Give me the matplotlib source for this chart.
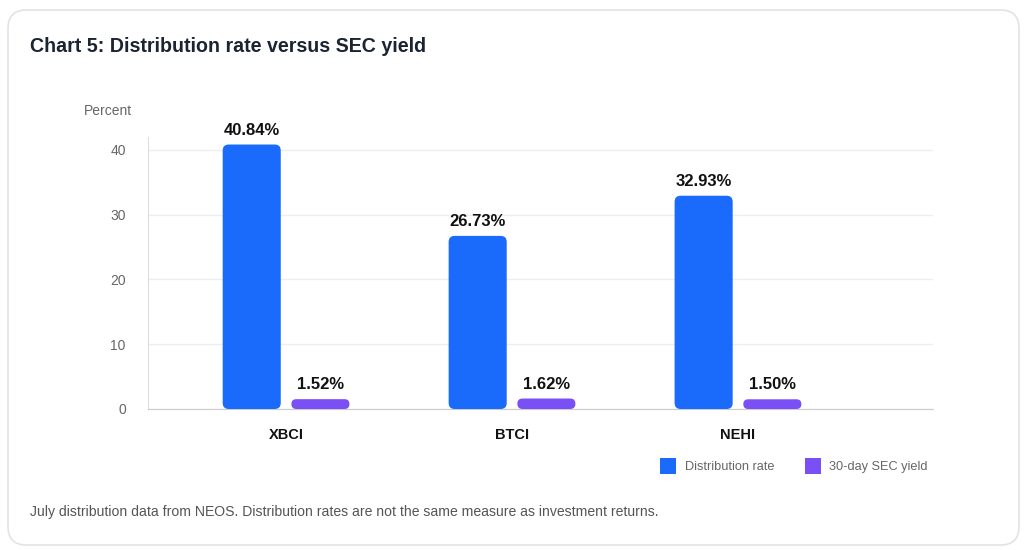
import matplotlib
matplotlib.use("Agg")
import matplotlib.pyplot as plt
from matplotlib.patches import FancyBboxPatch
import numpy as np

categories = ["XBCI", "BTCI", "NEHI"]
distribution_rate = [40.84, 26.73, 32.93]
sec_yield = [1.52, 1.62, 1.50]
series_names = ["Distribution rate", "30-day SEC yield"]
y_ticks = [0, 10, 20, 30, 40]

BLUE = "#1a6afc"
PURPLE = "#7a4ff5"

plt.rcParams['font.family'] = ['Liberation Sans', 'DejaVu Sans']

W, H = 1024, 550
fig = plt.figure(figsize=(W / 100, H / 100), dpi=100)

# card border
card = FancyBboxPatch((8 / W, 5 / H), (1019 - 8) / W, (545 - 10) / H,
                      boxstyle="round,pad=0,rounding_size=0.018",
                      transform=fig.transFigure, facecolor="white",
                      edgecolor="#e3e3e3", linewidth=1.2, mutation_aspect=W / H, zorder=-10)
fig.patches.append(card)

ax_left, ax_right = 148, 933
ax_top, ax_bottom = 137, 409
ax = fig.add_axes([ax_left / W, (H - ax_bottom) / H, (ax_right - ax_left) / W, (ax_bottom - ax_top) / H])
ax.set_facecolor("none")

x = np.arange(len(categories))
bw = 0.257
off = 0.152
ax.set_xlim(-0.611, 2.863)
ax.set_ylim(0, 42)

b1 = ax.bar(x - off, distribution_rate, bw, color=BLUE, label=series_names[0])
b2 = ax.bar(x + off, sec_yield, bw, color=PURPLE, label=series_names[1])

# rounded bars
fig.canvas.draw()
x_per_px = 1 / (ax.transData.transform((1, 0))[0] - ax.transData.transform((0, 0))[0])
y_per_px = 1 / (ax.transData.transform((0, 1))[1] - ax.transData.transform((0, 0))[1])
r_px = 6
for bars in (b1, b2):
    for p in bars:
        p.set_visible(False)
        bx, by = p.get_x(), p.get_y()
        bwid, bh = p.get_width(), p.get_height()
        r = min(r_px, bh / y_per_px / 2)
        fp = FancyBboxPatch((bx, by), bwid, bh,
                            boxstyle=f"round,pad=0,rounding_size={r * x_per_px}",
                            mutation_aspect=y_per_px / x_per_px,
                            facecolor=p.get_facecolor(), edgecolor="none", zorder=3)
        ax.add_patch(fp)

for xi, v in zip(x - off, distribution_rate):
    ax.annotate(f"{v:.2f}%", (xi, v), xytext=(0, 5), textcoords="offset points",
                ha="center", va="bottom", fontsize=12, fontweight="bold", color="#111111")
for xi, v in zip(x + off, sec_yield):
    ax.annotate(f"{v:.2f}%", (xi, v), xytext=(0, 5), textcoords="offset points",
                ha="center", va="bottom", fontsize=12, fontweight="bold", color="#111111")

ax.set_yticks(y_ticks)
ax.set_yticklabels([str(t) for t in y_ticks], color="#666666", fontsize=10)
ax.tick_params(axis="y", length=0, pad=16)
ax.set_xticks(x)
ax.set_xticklabels(categories, fontsize=10.5, fontweight="bold", color="#111111")
ax.tick_params(axis="x", length=0, pad=14)

ax.grid(axis="y", color="#eeeeee", linewidth=1)
ax.set_axisbelow(True)
for s in ["top", "right"]:
    ax.spines[s].set_visible(False)
ax.spines["left"].set_color("#dddddd")
ax.spines["bottom"].set_color("#cccccc")

# title and texts
fig.text(30 / W, 1 - 46 / H, "Chart 5: Distribution rate versus SEC yield", fontsize=14.1,
         fontweight="bold", color="#1b2433", va="center", ha="left")
fig.text(84 / W, 1 - 111 / H, "Percent", fontsize=10, color="#666666", va="center", ha="left")
fig.text(30 / W, 1 - 512 / H,
         "July distribution data from NEOS. Distribution rates are not the same measure as investment returns.",
         fontsize=10.1, color="#555555", va="center", ha="left")

leg = fig.legend(handles=[b1, b2], labels=series_names, loc="center right",
                 bbox_to_anchor=(939 / W, 1 - 466 / H), ncol=2, frameon=False,
                 fontsize=9.2, handlelength=1.25, handleheight=1.6, columnspacing=2.4,
                 handletextpad=0.65, labelcolor="#666666")
for h, c in zip(leg.legend_handles, [BLUE, PURPLE]):
    h.set_visible(True)
    h.set_facecolor(c)

fig.savefig("out.png", dpi=100)
